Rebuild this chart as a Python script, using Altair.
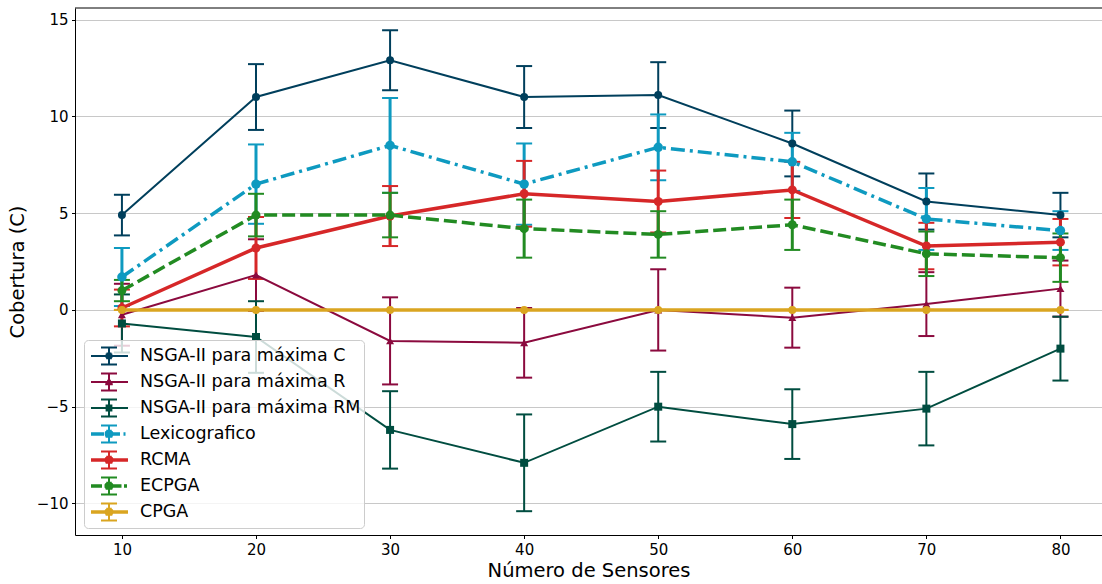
import altair as alt
import pandas as pd
import math

# ---------------- data ----------------
x_vals = [10, 20, 30, 40, 50, 60, 70, 80]
series_names = ["NSGA-II para máxima C", "NSGA-II para máxima R", "NSGA-II para máxima RM",
                "Lexicografico", "RCMA", "ECPGA", "CPGA"]
colors = ["#003f5c", "#8b0a3e", "#004d40", "#0e9ac0", "#d62728", "#228b22", "#daa520"]

c_mean = [4.9, 11.0, 12.9, 11.0, 11.1, 8.6, 5.6, 4.9]
c_err = [1.05, 1.7, 1.55, 1.6, 1.7, 1.7, 1.45, 1.15]
r_mean = [-0.25, 1.8, -1.6, -1.7, 0.0, -0.4, 0.3, 1.1]
r_err = [1.6, 1.85, 2.25, 1.8, 2.1, 1.55, 1.65, 1.45]
rm_mean = [-0.7, -1.4, -6.2, -7.9, -5.0, -5.9, -5.1, -2.0]
rm_err = [1.5, 1.85, 2.0, 2.5, 1.8, 1.8, 1.9, 1.65]
lex_mean = [1.7, 6.5, 8.5, 6.5, 8.4, 7.65, 4.7, 4.1]
lex_err = [1.5, 2.05, 2.45, 2.1, 1.7, 1.5, 1.6, 1.0]
rcma_mean = [0.1, 3.2, 4.85, 6.0, 5.6, 6.2, 3.3, 3.5]
rcma_err = [0.95, 1.6, 1.55, 1.7, 1.6, 1.45, 1.2, 1.2]
ecpga_mean = [1.0, 4.9, 4.9, 4.2, 3.9, 4.4, 2.9, 2.7]
ecpga_err = [0.55, 1.1, 1.15, 1.5, 1.2, 1.3, 1.15, 1.25]
cpga_mean = [0.0, 0.0, 0.0, 0.0, 0.0, 0.0, 0.0, 0.0]
cpga_err = [0.0, 0.0, 0.0, 0.0, 0.0, 0.0, 0.0, 0.0]

means = [c_mean, r_mean, rm_mean, lex_mean, rcma_mean, ecpga_mean, cpga_mean]
errs = [c_err, r_err, rm_err, lex_err, rcma_err, ecpga_err, cpga_err]

# ---------------- styles ----------------
markers = ["circle", "triangle-up", "square", "circle", "circle", "circle", "circle"]
marker_sizes = [64, 64, 64, 90, 81, 81, 64]
line_widths = [2, 2, 2, 3.5, 3.5, 3.5, 3.5]
bar_widths = [2, 2, 2, 3, 3, 3, 3]
dashes = [None, None, None, [14, 5, 3, 5], None, [13, 5], None]

W, H = 1027, 527
FONT = "DejaVu Sans"

x_scale = alt.Scale(domain=[6.5, 83.1], nice=False, zero=False)
y_scale = alt.Scale(domain=[-11.63, 15.6], nice=False, zero=False)


def X():
    return alt.X("x:Q", scale=x_scale,
                 axis=alt.Axis(values=x_vals, title="Número de Sensores", grid=False,
                               titlePadding=4))


def Y(field):
    return alt.Y(f"{field}:Q", scale=y_scale,
                 axis=alt.Axis(values=[-10, -5, 0, 5, 10, 15], title="Cobertura (C)",
                               grid=True, titlePadding=9))


rows = []
for name, m, e in zip(series_names, means, errs):
    for xv, mv, ev in zip(x_vals, m, e):
        rows.append({"series": name, "x": xv, "mean": mv, "lo": mv - ev, "hi": mv + ev})
df = pd.DataFrame(rows)

caps = pd.concat([
    df[["series", "x"]].assign(cap=df["lo"]),
    df[["series", "x"]].assign(cap=df["hi"]),
])

layers = []
# error bars first (below all data lines, as in matplotlib)
for i, name in enumerate(series_names):
    d = df[df.series == name]
    layers.append(alt.Chart(d).mark_rule(color=colors[i], strokeWidth=bar_widths[i]).encode(
        x=X(), y=Y("lo"), y2="hi"))
    layers.append(alt.Chart(caps[caps.series == name]).mark_point(
        shape="M-1,0L1,0", size=256, strokeWidth=2, filled=False, opacity=1,
        color=colors[i]).encode(x=X(), y=Y("cap")))

for i, name in enumerate(series_names):
    d = df[df.series == name]
    lk = dict(color=colors[i], strokeWidth=line_widths[i])
    if dashes[i] is not None:
        lk["strokeDash"] = dashes[i]
    layers.append(alt.Chart(d).mark_line(**lk).encode(x=X(), y=Y("mean")))
    layers.append(alt.Chart(d).mark_point(shape=markers[i], filled=True, opacity=1,
                                          size=marker_sizes[i], color=colors[i]).encode(
        x=X(), y=Y("mean")))


# ---------------- legend glyphs (errorbar-like symbols) ----------------
UNIT = 12.0   # px per path unit for symbolSize 576
SHIFT = 9.0   # px


def f(v):
    return f"{(v + 0.0) / UNIT:.3f}"


def seg(x0, x1, y):
    return f"M{f(x0 + SHIFT)},{f(y)}L{f(x1 + SHIFT)},{f(y)}"


def glyph(marker, thick, dash):
    if dash == "dashdot":
        hsegs = [(-18, -5), (4, 11), (14.5, 16.5)]
    elif dash == "dashed":
        hsegs = [(-18, -7), (-4.5, 12.5), (15, 18)]
    else:
        hsegs = [(-18, 19)]
    parts = []
    ys = [-0.7, 0.7] if thick else [0]
    for a, b in hsegs:
        for yy in ys:
            parts.append(seg(a, b, yy))
    # vertical bar + caps
    parts.append(f"M{f(SHIFT)},{f(-8.5)}L{f(SHIFT)},{f(8.5)}")
    parts.append(seg(-8, 8, -8.5))
    parts.append(seg(-8, 8, 8.5))
    # filled marker via scanlines
    if marker == "circle":
        R = 4.3 if thick else 3.6
        yy = -R + 1
        while yy <= R - 1 + 1e-6:
            hw = math.sqrt(max(R * R - yy * yy, 0))
            parts.append(seg(-hw, hw, yy))
            yy += 1.2
    elif marker == "triangle-up":
        yy = -3.2
        while yy <= 2.6:
            hw = 4.2 * (yy + 4.2) / 7.2
            parts.append(seg(-hw, hw, yy))
            yy += 1.1
    else:
        yy = -2.6
        while yy <= 2.7:
            parts.append(seg(-3.4, 3.4, yy))
            yy += 1.3
    return "".join(parts)


glyph_dash = [None, None, None, "dashdot", None, "dashed", None]
paths = [glyph(markers[i], line_widths[i] > 2, glyph_dash[i]) for i in range(7)]

legend_df = pd.DataFrame({"series": series_names, "x": x_vals[:7], "mean": [0.0] * 7})
leg = alt.Legend(orient="none", legendX=9, legendY=332, title=None, padding=3, rowPadding=0,
                 symbolSize=576, symbolStrokeWidth=2, symbolOpacity=1, labelOffset=27,
                 labelFontSize=17.5, labelFont=FONT, labelColor="black", labelLimit=600,
                 strokeColor="#cccccc", fillColor="rgba(255,255,255,0.8)", cornerRadius=4)
legend_layer = alt.Chart(legend_df).transform_filter("false").mark_point(
    filled=False, strokeWidth=2).encode(
    x=X(), y=Y("mean"),
    color=alt.Color("series:N", scale=alt.Scale(domain=series_names, range=colors), legend=leg),
    shape=alt.Shape("series:N", scale=alt.Scale(domain=series_names, range=paths), legend=leg),
)
layers.append(legend_layer)

# top spine
spine = alt.Chart(alt.Data(values=[{"a": 1}])).mark_rule(color="black", strokeWidth=1).encode(
    x=alt.value(0), x2=alt.value(W), y=alt.value(0))
layers.append(spine)

chart = alt.layer(*layers).properties(
    width=W, height=H,
    autosize=alt.AutoSizeParams(type="none"),
    padding={"left": 75, "top": 8, "right": 0, "bottom": 49},
).configure(font=FONT).configure_view(stroke=None).configure_axis(
    labelFont=FONT, titleFont=FONT, labelFontSize=15, titleFontSize=19.5,
    labelColor="black", titleColor="black", titleFontWeight="normal",
    domainColor="black", domainWidth=1, tickColor="black", tickWidth=1, tickSize=3.5,
    labelPadding=3.5, gridColor="#c8c8c8", gridWidth=1,
)

chart.save("out.html", embed_options={"renderer": "svg", "actions": False})
